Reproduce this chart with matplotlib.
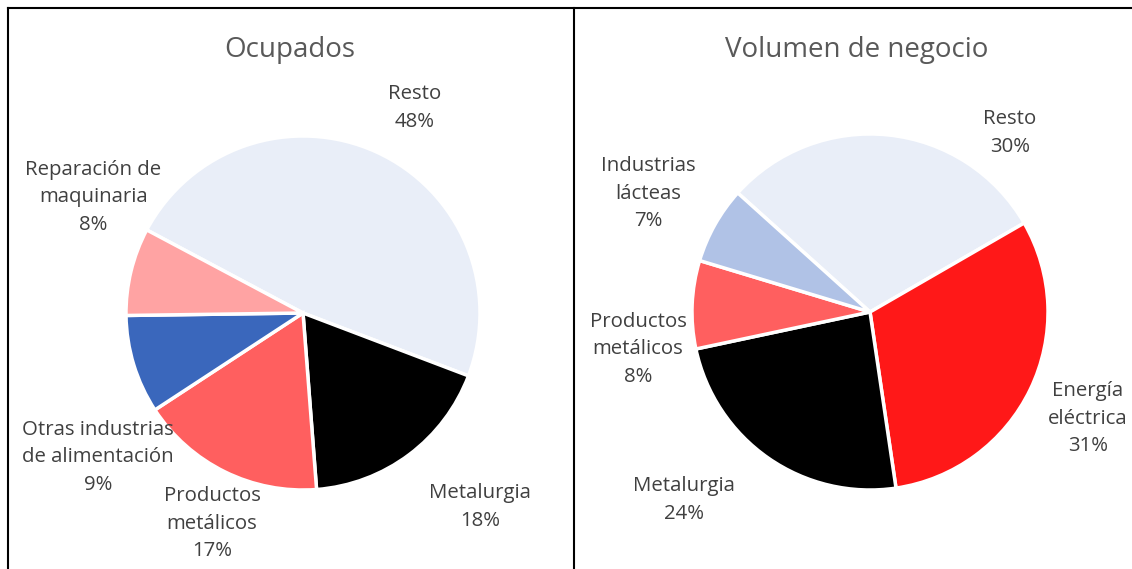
import numpy as np
import matplotlib.pyplot as plt

plt.rcParams['font.family'] = ['Open Sans', 'DejaVu Sans']

# datos
ocup_cat = ['Resto', 'Metalurgia', 'Productos\nmetálicos',
            'Otras industrias\nde alimentación', 'Reparación de\nmaquinaria']
ocup_val = [48, 18, 17, 9, 8]

neg_cat = ['Resto', 'Energía\neléctrica', 'Metalurgia',
           'Productos\nmetálicos', 'Industrias\nlácteas']
neg_val = [30, 31, 24, 8, 7]

# estilo
ocup_col = ['#E9EEF8', '#000000', '#FF5F5F', '#3A67BC', '#FFA3A3']
neg_col = ['#E9EEF8', '#FF1818', '#000000', '#FF5F5F', '#B0C2E6']
ocup_expl = [0, 0.03, 0, 0, 0]
neg_expl = [0, 0.02, 0, 0, 0]
# posicion de etiquetas (en radios, respecto al centro)
ocup_lab = [(0.633, 1.158), (1.0, -1.096), (-0.514, -1.192),
            (-1.158, -0.814), (-1.186, 0.655)]
neg_lab = [(0.787, 1.006), (1.225, -0.601), (-1.045, -1.056),
           (-1.303, -0.208), (-1.247, 0.663)]

W, H = 1132, 569
fig = plt.figure(figsize=(W / 100, H / 100), dpi=100)
ax = fig.add_axes([0, 0, 1, 1])


def dibuja(vals, cats, cols, expl, labpos, cx, cy, r, start, title, tx):
    ax.pie(vals, colors=cols, explode=expl, startangle=start, counterclock=False,
           center=(cx, cy), radius=r,
           wedgeprops=dict(edgecolor='white', linewidth=2.5))
    for (c, v, (dx, dy)) in zip(cats, vals, labpos):
        ax.text(cx + dx * r, cy + dy * r, f'{c}\n{v}%', ha='center', va='center',
                fontsize=14.7, color='#404040', linespacing=1.5)
    ax.text(tx, H - 50, title, ha='center', va='center', fontsize=20, color='#595959')


dibuja(ocup_val, ocup_cat, ocup_col, ocup_expl, ocup_lab, 303, H - 313, 177, 152,
       'Ocupados', 290)
dibuja(neg_val, neg_cat, neg_col, neg_expl, neg_lab, 870, H - 312, 178, 138,
       'Volumen de negocio', 857)

# marcos
ax.plot([8, W], [H - 8, H - 8], color='black', lw=1.5)
ax.plot([8, 8], [H - 8, 0], color='black', lw=1.5)
ax.plot([574, 574], [H - 8, 0], color='black', lw=1.5)

ax.set_xlim(0, W)
ax.set_ylim(0, H)
ax.set_aspect('auto')
ax.axis('off')

fig.savefig('out.png', dpi=100)
